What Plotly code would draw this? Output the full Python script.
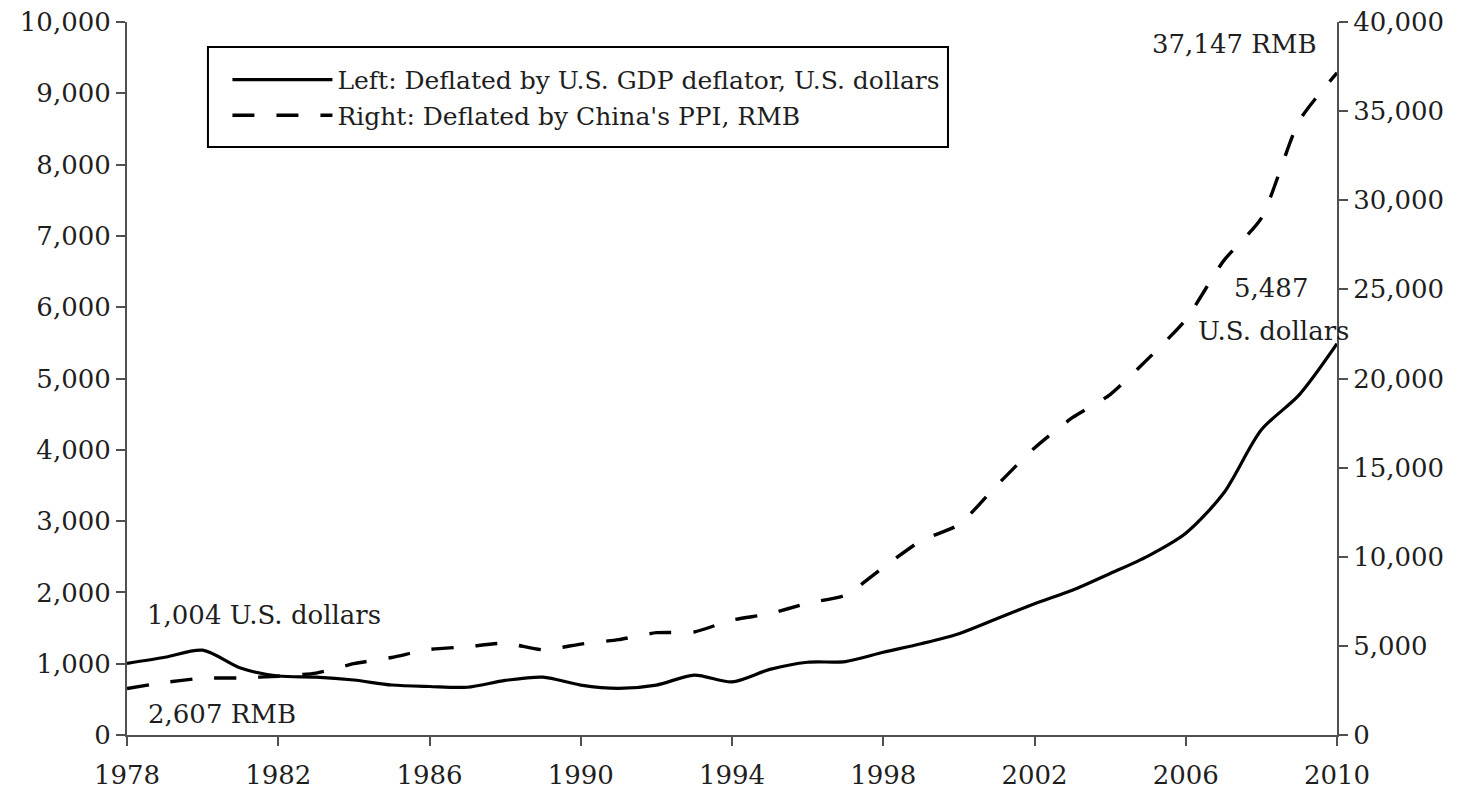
import plotly.graph_objects as go

years = list(range(1978, 2011))
usd_gdp_deflated = [1004, 1090, 1190, 940, 827, 813, 771, 701, 680, 670, 765, 812, 700, 655, 700, 840,
                    745, 920, 1020, 1030, 1160, 1280, 1420, 1630, 1840, 2030, 2265, 2510, 2830, 3390,
                    4280, 4770, 5487]
rmb_ppi_deflated = [2607, 2950, 3190, 3200, 3300, 3470, 4000, 4350, 4800, 4950, 5150, 4780, 5100, 5350,
                    5740, 5780, 6450, 6800, 7400, 7850, 9400, 10900, 11800, 14000, 16100, 17800, 19100,
                    21100, 23300, 26600, 29000, 34450, 37147]
x_ticks = [1978, 1982, 1986, 1990, 1994, 1998, 2002, 2006, 2010]
left_ticks = list(range(0, 10001, 1000))
right_ticks = list(range(0, 40001, 5000))

FONT = "DejaVu Serif"
TXT = "#1e1e1e"
AX = "#505050"

fig = go.Figure()
fig.add_trace(go.Scatter(
    x=years, y=usd_gdp_deflated, mode="lines",
    name="Left: Deflated by U.S. GDP deflator, U.S. dollars",
    line=dict(color="black", width=3.2, shape="spline", smoothing=0.8),
    yaxis="y"))
fig.add_trace(go.Scatter(
    x=years, y=rmb_ppi_deflated, mode="lines",
    name="Right: Deflated by China's PPI, RMB",
    line=dict(color="black", width=3.4, dash="22px,22px", shape="spline", smoothing=0.6),
    yaxis="y2"))

axis_common = dict(showgrid=False, zeroline=False, showline=True, linecolor=AX, linewidth=2,
                   ticks="outside", ticklen=9, tickwidth=2, tickcolor=AX, automargin=False,
                   tickfont=dict(family=FONT, size=26, color=TXT))

fig.update_layout(
    width=1458, height=792,
    margin=dict(l=127, r=121, t=22, b=57, autoexpand=False),
    paper_bgcolor="white", plot_bgcolor="white",
    font=dict(family=FONT, size=26, color=TXT),
    showlegend=True,
    legend=dict(x=0.083, y=0.951, xanchor="left", yanchor="top",
                bgcolor="rgba(0,0,0,0)", borderwidth=0,
                font=dict(family=FONT, size=25, color=TXT),
                itemwidth=100, traceorder="normal"),
    xaxis=dict(range=[1978, 2010], tickvals=x_ticks, ticklabelstandoff=7, **axis_common),
    yaxis=dict(range=[0, 10000], tickvals=left_ticks, tickformat=",", **axis_common),
    yaxis2=dict(range=[0, 40000], tickvals=right_ticks, tickformat=",", overlaying="y",
                side="right", **axis_common),
    shapes=[dict(type="rect", xref="paper", yref="paper", x0=0.0669, x1=0.6785,
                 y0=0.8247, y1=0.9649, line=dict(color="black", width=2),
                 fillcolor="white", layer="below")],
)

ann_font = dict(family=FONT, size=26, color=TXT)
fig.add_annotation(x=years[0], y=usd_gdp_deflated[0], xref="x", yref="y",
                   text=f"{usd_gdp_deflated[0]:,} U.S. dollars", showarrow=False,
                   xanchor="left", yanchor="middle", xshift=18, yshift=48, font=ann_font)
fig.add_annotation(x=years[0], y=rmb_ppi_deflated[0], xref="x", yref="y2",
                   text=f"{rmb_ppi_deflated[0]:,} RMB", showarrow=False,
                   xanchor="left", yanchor="middle", xshift=19, yshift=-25, font=ann_font)
fig.add_annotation(x=years[-1], y=rmb_ppi_deflated[-1], xref="x", yref="y2",
                   text=f"{rmb_ppi_deflated[-1]:,} RMB", showarrow=False,
                   xanchor="right", yanchor="middle", xshift=-18, yshift=29, font=ann_font)
fig.add_annotation(x=years[-1], y=usd_gdp_deflated[-1], xref="x", yref="y",
                   text=f"{usd_gdp_deflated[-1]:,}", showarrow=False,
                   xanchor="center", yanchor="middle", xshift=-66, yshift=56, font=ann_font)
fig.add_annotation(x=years[-1], y=usd_gdp_deflated[-1], xref="x", yref="y",
                   text="U.S. dollars", showarrow=False,
                   xanchor="center", yanchor="middle", xshift=-64, yshift=13, font=ann_font)

fig.write_html("out.html", config={"displayModeBar": False},
               post_script="document.body.style.margin='0';document.body.style.overflow='hidden';")
